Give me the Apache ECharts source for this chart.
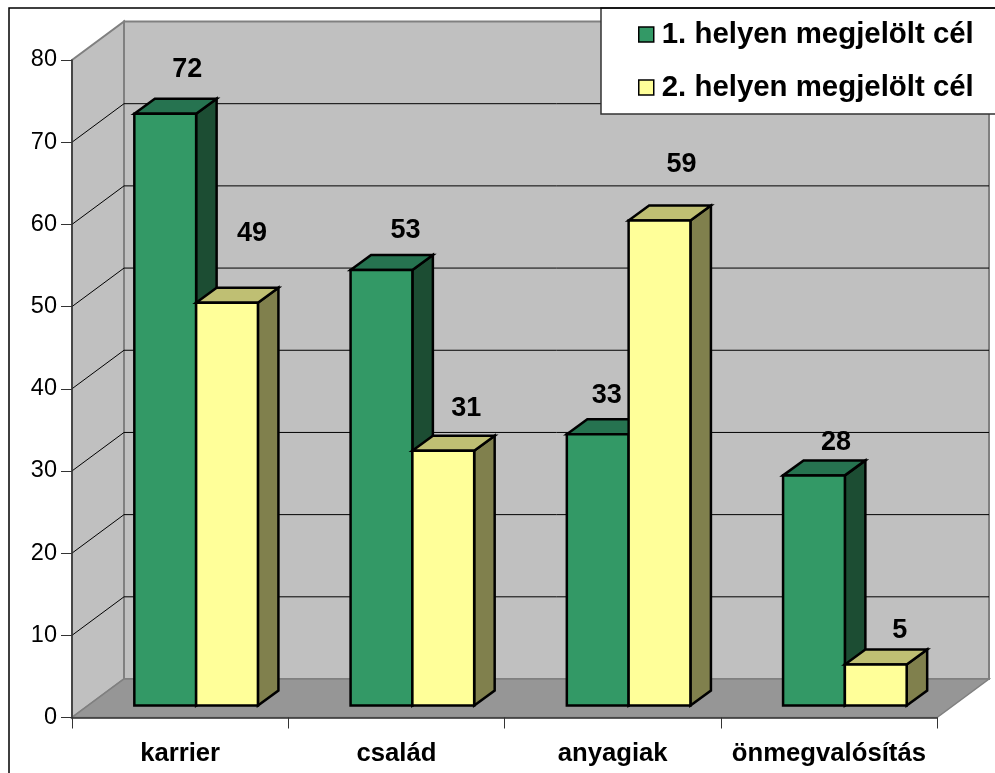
<!DOCTYPE html>
<html><head><meta charset="utf-8">
<style>html,body{margin:0;padding:0;background:#fff}#c{width:995px;height:773px}</style>
<script src="https://cdn.jsdelivr.net/npm/echarts@6/dist/echarts.min.js"></script>
</head><body><div id="c"></div>
<script>
const categories = ['karrier', 'család', 'anyagiak', 'önmegvalósítás'];
const seriesNames = ['1. helyen megjelölt cél', '2. helyen megjelölt cél'];
const first = [72, 53, 33, 28];
const second = [49, 31, 59, 5];
const yTicks = [10, 20, 30, 40, 50, 60, 70];
// hand-placed data label nudges in the source (px from each bar's top centre)
const firstLabelNudge = [[22, -44], [24, -39], [9, -39], [22, -33]];
const secondLabelNudge = [[25, -69], [23, -42], [22, -56], [24, -34]];

const FONT = '"Liberation Sans", Arial, sans-serif';
const WALL_DX = 52, WALL_DY = -38.5;   // depth of the chart box
const BAR_SHIFT_X = 16, BAR_SHIFT_Y = -12; // bars stand inside the box
const BAR_DX = 20.5, BAR_DY = -15;     // depth of one bar
const BAR_FRAC = 61.8 / 216.25;

function poly(points, fill, stroke, lw) {
  return { type: 'polygon', shape: { points }, style: { fill, stroke: stroke || 'none', lineWidth: lw || 0, lineJoin: 'miter' } };
}
function wallsItem(params) {
  const c = params.coordSys;
  const l = c.x, r = c.x + c.width, t = c.y, b = c.y + c.height;
  const E = '#808080';
  return { type: 'group', children: [
    poly([[l + WALL_DX, t + WALL_DY], [r + WALL_DX, t + WALL_DY], [r + WALL_DX, b + WALL_DY], [l + WALL_DX, b + WALL_DY]], '#C0C0C0', E, 2),
    poly([[l, t], [l + WALL_DX, t + WALL_DY], [l + WALL_DX, b + WALL_DY], [l, b]], '#C0C0C0', E, 2),
    poly([[l, b], [l + WALL_DX, b + WALL_DY], [r + WALL_DX, b + WALL_DY], [r, b]], '#969696', E, 1.5)
  ]};
}
function gridItem(params, api) {
  const c = params.coordSys;
  const p = api.coord([categories[0], api.value(0)]);
  const y = p[1];
  return { type: 'polyline', shape: { points: [[c.x, y], [c.x + WALL_DX, y + WALL_DY], [c.x + c.width + WALL_DX, y + WALL_DY]] },
    style: { fill: 'none', stroke: '#000', lineWidth: 1 } };
}
function barItem(colors, side, nudges) {
  return function (params, api) {
    const idx = params.dataIndex;
    const band = api.size([1, 0])[0];
    const w = band * BAR_FRAC;
    const top = api.coord([api.value(0), api.value(1)]);
    const base = api.coord([api.value(0), 0]);
    const x0 = top[0] + BAR_SHIFT_X + (side === 0 ? -w : 0);
    const x1 = x0 + w;
    const yT = top[1] + BAR_SHIFT_Y, yB = base[1] + BAR_SHIFT_Y;
    const K = '#000';
    return { type: 'group', children: [
      poly([[x1, yT], [x1 + BAR_DX, yT + BAR_DY], [x1 + BAR_DX, yB + BAR_DY], [x1, yB]], colors[2], K, 2.5),
      poly([[x0, yT], [x0 + BAR_DX, yT + BAR_DY], [x1 + BAR_DX, yT + BAR_DY], [x1, yT]], colors[1], K, 2.5),
      poly([[x0, yT], [x1, yT], [x1, yB], [x0, yB]], colors[0], K, 2.5),
      { type: 'text', style: {
          text: String(api.value(1)), x: (x0 + x1) / 2 + nudges[idx][0], y: yT + nudges[idx][1],
          align: 'center', verticalAlign: 'middle', fill: '#000', font: 'bold 27px ' + FONT } }
    ]};
  };
}
const GREEN = ['#339966', '#267350', '#1C4D33'];
const YELLOW = ['#FFFF99', '#BFBF73', '#80804D'];

const chart = echarts.init(document.getElementById('c'), null, { renderer: 'canvas' });
chart.setOption({
  animation: false,
  backgroundColor: '#fff',
  grid: { left: 72, right: 58, top: 60, bottom: 55.5 },
  xAxis: { type: 'category', data: categories, z: 5,
    axisLine: { lineStyle: { color: '#333', width: 1.5 } },
    axisTick: { show: true, length: 11, lineStyle: { color: '#333', width: 1 } },
    axisLabel: { color: '#000', fontFamily: FONT, fontWeight: 'bold', fontSize: 25.7, margin: 23, interval: 0 } },
  yAxis: { type: 'value', min: 0, max: 80, interval: 10, z: 5,
    splitLine: { show: false },
    axisLine: { show: true, lineStyle: { color: '#333', width: 1.5 } },
    axisTick: { show: true, length: 11, lineStyle: { color: '#333', width: 1 } },
    axisLabel: { color: '#000', fontFamily: FONT, fontSize: 23.5, margin: 15 } },
  legend: { orient: 'vertical', left: 601, top: 8, z: 6, data: [
      { name: seriesNames[0], icon: 'rect', itemStyle: { color: GREEN[0], borderColor: '#000', borderWidth: 1.5 } },
      { name: seriesNames[1], icon: 'rect', itemStyle: { color: YELLOW[0], borderColor: '#000', borderWidth: 1.5 } }],
    backgroundColor: '#fff', borderColor: '#333', borderWidth: 1.5,
    padding: [11, 60, 11, 37], itemGap: 22, itemWidth: 15, itemHeight: 15,
    selectedMode: false,
    textStyle: { color: '#000', fontFamily: FONT, fontWeight: 'bold', fontSize: 29.4, lineHeight: 31, padding: [0, 0, 0, 3] } },
  graphic: [{ type: 'rect', z: 10, silent: true, shape: { x: 9, y: 8, width: 1100, height: 900 },
    style: { fill: 'none', stroke: '#000', lineWidth: 1.5 } }],
  series: [
    { type: 'custom', z: 1, silent: true, data: [0], renderItem: wallsItem, encode: { y: 0 } },
    { type: 'custom', z: 1, silent: true, data: yTicks.map(v => [v]), renderItem: gridItem, encode: { y: 0 } },
    { type: 'custom', name: seriesNames[0], z: 2, itemStyle: { color: GREEN[0] },
      data: categories.map((c, i) => [i, first[i]]), renderItem: barItem(GREEN, 0, firstLabelNudge), encode: { x: 0, y: 1 } },
    { type: 'custom', name: seriesNames[1], z: 3, itemStyle: { color: YELLOW[0] },
      data: categories.map((c, i) => [i, second[i]]), renderItem: barItem(YELLOW, 1, secondLabelNudge), encode: { x: 0, y: 1 } }
  ]
});
</script></body></html>
